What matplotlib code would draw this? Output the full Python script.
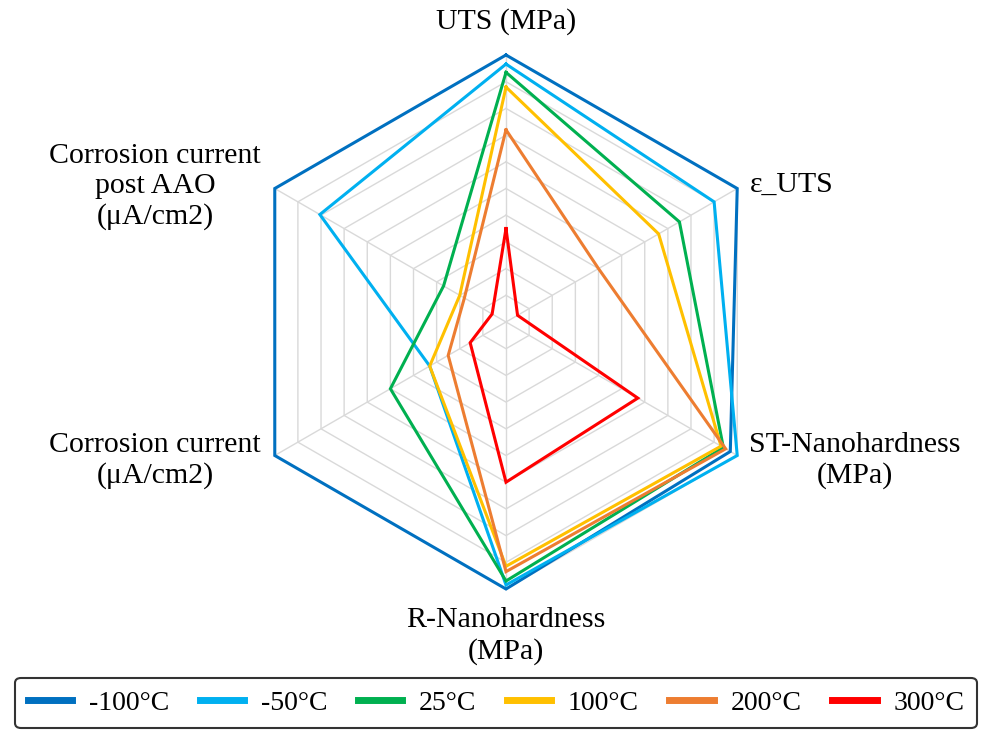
import numpy as np
import matplotlib
matplotlib.use("Agg")
import matplotlib.pyplot as plt

# axis names, clockwise from top
axes_labels = ["UTS (MPa)", "ε_UTS", "ST-Nanohardness\n(MPa)", "R-Nanohardness\n(MPa)",
               "Corrosion current\n(μA/cm2)", "Corrosion current\npost AAO\n(μA/cm2)"]

series_names = ["-100°C", "-50°C", "25°C", "100°C", "200°C", "300°C"]
colors = ["#0070C0", "#00B0F0", "#00B050", "#FFC000", "#ED7D31", "#FF0000"]

# normalised values (same order as axes_labels)
t_m100 = [1.00, 1.00, 0.97, 1.00, 1.00, 1.00]
t_m50 = [0.966, 0.90, 1.00, 0.985, 0.33, 0.805]
t_25 = [0.935, 0.75, 0.94, 0.97, 0.50, 0.27]
t_100 = [0.88, 0.66, 0.93, 0.915, 0.33, 0.20]
t_200 = [0.72, 0.40, 0.95, 0.935, 0.25, 0.18]
t_300 = [0.35, 0.05, 0.57, 0.60, 0.155, 0.06]
all_series = [t_m100, t_m50, t_25, t_100, t_200, t_300]

W, H, DPI = 989, 734, 100
cx, cy, R = 506, 322, 267  # center and radius in pixels

fig = plt.figure(figsize=(W / DPI, H / DPI), dpi=DPI)
ax = fig.add_axes([0, 0, 1, 1])
ax.set_xlim(-cx / R, (W - cx) / R)
ax.set_ylim(-(H - cy) / R, cy / R)
ax.axis("off")

n = len(axes_labels)
theta = np.arange(n) * 2 * np.pi / n
sx, sy = np.sin(theta), np.cos(theta)

# hexagonal grid rings + spokes
for k in range(1, 11):
    r = k / 10
    ax.plot(np.append(r * sx, r * sx[0]), np.append(r * sy, r * sy[0]),
            color="#D9D9D9", lw=1.0, zorder=1)
for i in range(n):
    ax.plot([0, sx[i]], [0, sy[i]], color="#D9D9D9", lw=1.0, zorder=1)

lines = []
for name, vals, c in zip(series_names, all_series, colors):
    v = np.array(vals + vals[:1])
    ln, = ax.plot(v * np.append(sx, sx[0]), v * np.append(sy, sy[0]),
                  color=c, lw=2.2, label=name, zorder=3, solid_joinstyle="miter")
    lines.append(ln)

fnt = dict(family="Liberation Serif", fontsize=21.5, color="black")
ls = 1.2
ax.text(0, 1.124, axes_labels[0], ha="center", va="center", **fnt)
ax.text(0.914, 0.513, axes_labels[1], ha="left", va="center", **fnt)
ax.text(1.307, -0.517, axes_labels[2], ha="center", va="center", linespacing=ls, **fnt)
ax.text(0, -1.176, axes_labels[3], ha="center", va="center", linespacing=ls, **fnt)
ax.text(-1.315, -0.517, axes_labels[4], ha="center", va="center", linespacing=ls, **fnt)
ax.text(-1.315, 0.509, axes_labels[5], ha="center", va="center", linespacing=ls, **fnt)

leg = fig.legend(handles=lines, loc="center", bbox_to_anchor=(0.5015, 0.0422), ncol=6,
                 prop={"family": "Liberation Serif", "size": 20}, frameon=True,
                 fancybox=True, edgecolor="black", handlelength=1.6, handletextpad=0.6,
                 columnspacing=1.1, borderpad=0.45, borderaxespad=0)
leg.get_frame().set_linewidth(1.5)
for h in leg.get_lines():
    h.set_linewidth(5)

fig.savefig("out.png", dpi=DPI)
